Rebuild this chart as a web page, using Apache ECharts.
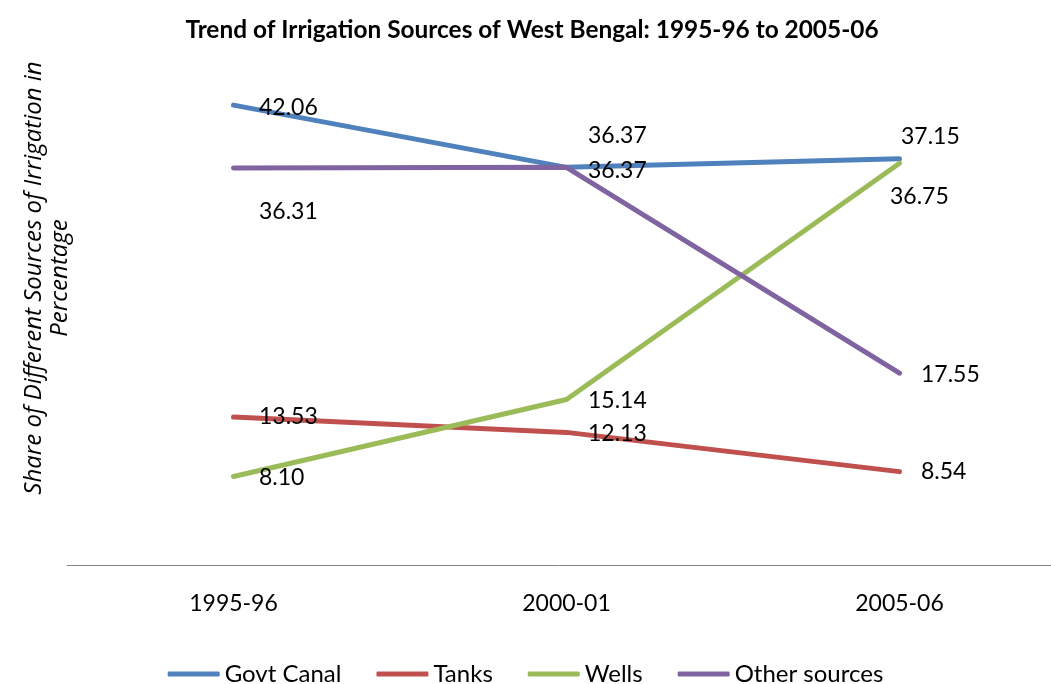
<!DOCTYPE html>
<html>
<head>
<meta charset="utf-8">
<script src="https://cdn.jsdelivr.net/npm/echarts@6/dist/echarts.min.js"></script>
<style>
html, body { margin: 0; padding: 0; background: #fff; }
#chart { width: 1051px; height: 684px; }
</style>
</head>
<body>
<div id="chart"></div>
<script>
// 数据
const years = ['1995-96', '2000-01', '2005-06'];
const govtCanal = [42.06, 36.37, 37.15];
const tanks = [13.53, 12.13, 8.54];
const wells = [8.10, 15.14, 36.75];
const otherSources = [36.31, 36.37, 17.55];

// 标签偏移 (样式, 不是数据)
const labelShift = {
    'Govt Canal': [[25, 2], [21, -32], [1, -22]],
    'Tanks': [[25, 0], [21, 1], [21, 0]],
    'Wells': [[25, 1], [21, 1], [-10, 33]],
    'Other sources': [[25, 44], [21, 3], [21, 1]]
};

const font = 'Lato, "Open Sans", sans-serif';

function makeSeries(name, values, color) {
    return {
        name: name,
        type: 'line',
        data: values,
        symbol: 'circle',
        symbolSize: 1,
        showSymbol: true,
        lineStyle: { color: color, width: 5, cap: 'round', join: 'round' },
        itemStyle: { color: color },
        label: {
            show: true,
            position: 'right',
            distance: 0,
            color: '#000',
            fontFamily: font,
            fontSize: 23,
            formatter: function (p) { return p.value.toFixed(2); }
        },
        labelLayout: function (p) {
            const s = labelShift[name][p.dataIndex];
            return { dx: s[0], dy: s[1], hideOverlap: false };
        },
        z: 2
    };
}

const chart = echarts.init(document.getElementById('chart'));
const opt = {
    backgroundColor: '#fff',
    animation: false,
    title: {
        text: 'Trend of Irrigation Sources of West Bengal: 1995-96 to 2005-06',
        left: 527,
        top: 13,
        textAlign: 'center',
        textStyle: { fontFamily: font, fontWeight: 'bold', fontSize: 24.4, color: '#000' }
    },
    graphic: [{
        type: 'text',
        x: 47,
        y: 278,
        rotation: Math.PI / 2,
        style: {
            text: 'Share of Different Sources of Irrigation in\nPercentage',
            fontFamily: '"Open Sans", sans-serif',
            fontStyle: 'italic',
            fontSize: 24,
            lineHeight: 26,
            fill: '#000',
            align: 'center',
            verticalAlign: 'middle'
        }
    }],
    legend: {
        top: 657,
        left: 'center',
        icon: 'roundRect',
        itemWidth: 52,
        itemHeight: 5,
        itemGap: 35,
        textStyle: { fontFamily: font, fontSize: 24, color: '#000' },
        data: ['Govt Canal', 'Tanks', 'Wells', 'Other sources']
    },
    grid: { left: 67, width: 999, top: 73, bottom: 119, outerBoundsMode: 'none', containLabel: false },
    xAxis: {
        type: 'category',
        data: years,
        boundaryGap: true,
        axisLine: { lineStyle: { color: '#868686', width: 1 } },
        axisTick: { show: false },
        axisLabel: { margin: 27, color: '#000', fontFamily: font, fontSize: 23 }
    },
    yAxis: {
        type: 'value',
        min: 0,
        max: 45,
        axisLine: { show: false },
        axisTick: { show: false },
        axisLabel: { show: false },
        splitLine: { show: false }
    },
    series: [
        makeSeries('Govt Canal', govtCanal, '#4F81BD'),
        makeSeries('Tanks', tanks, '#C0504D'),
        makeSeries('Wells', wells, '#9BBB59'),
        makeSeries('Other sources', otherSources, '#8064A2')
    ]
};
chart.setOption(opt);
window.addEventListener('resize', function () {
    chart.resize();
});
</script>
</body>
</html>
